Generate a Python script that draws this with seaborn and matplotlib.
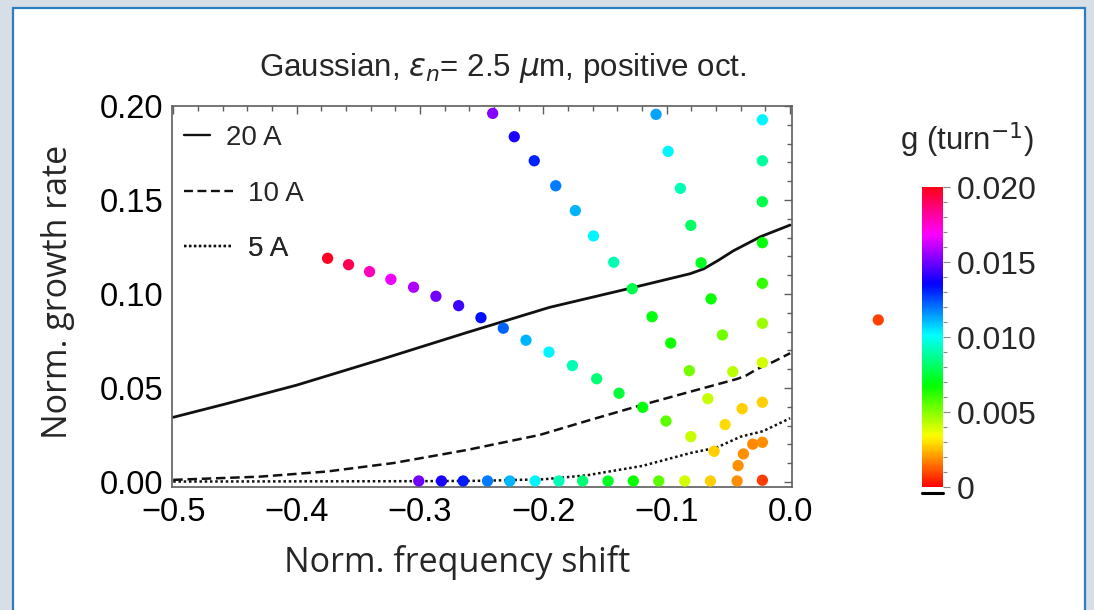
import numpy as np
import pandas as pd
import matplotlib
matplotlib.use("Agg")
import matplotlib.pyplot as plt
import matplotlib as mpl
import seaborn as sns
from matplotlib.patches import Rectangle
from matplotlib.lines import Line2D
from matplotlib.ticker import MultipleLocator

# ---------------- data ----------------
# Mode families: normalized frequency shift, normalized growth rate, g (1/turn)
shift_a = [-0.2411, -0.2236, -0.2074, -0.1900, -0.1741, -0.1594, -0.1430, -0.1280,
           -0.1119, -0.0968, -0.0817, -0.0667, -0.0527, -0.0379]
rate_a = [0.1961, 0.1837, 0.1709, 0.1576, 0.1444, 0.1309, 0.1169, 0.1028,
          0.0879, 0.0739, 0.0592, 0.0443, 0.0305, 0.0149]
g_a = [0.0153, 0.0139, 0.0131, 0.0119, 0.0111, 0.0103, 0.0092, 0.0078,
       0.0069, 0.0066, 0.0053, 0.0042, 0.0029, 0.0019]

shift_b = [-0.3749, -0.3579, -0.3409, -0.3236, -0.3052, -0.2871, -0.2687, -0.2506,
           -0.2325, -0.2141, -0.1955, -0.1765, -0.1568, -0.1387, -0.1195, -0.1006,
           -0.0805, -0.0616, -0.0422]
rate_b = [0.1190, 0.1156, 0.1119, 0.1078, 0.1036, 0.0988, 0.0938, 0.0874,
          0.0818, 0.0754, 0.0691, 0.0619, 0.0549, 0.0472, 0.0397, 0.0324,
          0.0241, 0.0163, 0.0087]
g_b = [0.0198, 0.0192, 0.0178, 0.0167, 0.0158, 0.0150, 0.0143, 0.0133,
       0.0122, 0.0111, 0.0103, 0.0092, 0.0083, 0.0075, 0.0069, 0.0056,
       0.0042, 0.0028, 0.0019]

shift_c = [-0.1087, -0.0989, -0.0890, -0.0805, -0.0722, -0.0641, -0.0549, -0.0465,
           -0.0389, -0.0303]
rate_c = [0.1956, 0.1759, 0.1562, 0.1365, 0.1166, 0.0974, 0.0782, 0.0587,
          0.0390, 0.0201]
g_c = [0.0114, 0.0103, 0.0092, 0.0081, 0.0072, 0.0067, 0.0053, 0.0043,
       0.0028, 0.0018]

shift_d = [-0.0225, -0.0225, -0.0225, -0.0225, -0.0225, -0.0225, -0.0225, -0.0225,
           -0.0225, -0.0225]
rate_d = [0.1927, 0.1709, 0.1491, 0.1273, 0.1057, 0.0844, 0.0635, 0.0424,
          0.0211, 0.0009]
g_d = [0.0103, 0.0089, 0.0078, 0.0069, 0.0061, 0.0047, 0.0040, 0.0028,
       0.0019, 0.0008]

shift_e = [-0.3010, -0.2826, -0.2650, -0.2453, -0.2272, -0.2067, -0.1874, -0.1682,
           -0.1476, -0.1271, -0.1065, -0.0854, -0.0646, -0.0430]
rate_e = [0.0005, 0.0005, 0.0005, 0.0005, 0.0005, 0.0005, 0.0005, 0.0005,
          0.0005, 0.0005, 0.0005, 0.0005, 0.0005, 0.0005]
g_e = [0.0150, 0.0139, 0.0132, 0.0119, 0.0111, 0.0103, 0.0092, 0.0083,
       0.0072, 0.0067, 0.0056, 0.0040, 0.0028, 0.0019]

shift_x = [0.0714]
rate_x = [0.0862]
g_x = [0.0009]

# Growth-rate curves for three beam currents
shift_20 = [-0.500, -0.457, -0.400, -0.330, -0.262, -0.195, -0.130, -0.081,
            -0.070, -0.058, -0.046, -0.024, 0.000]
rate_20 = [0.0344, 0.0416, 0.0515, 0.0655, 0.0795, 0.0929, 0.1030, 0.1108,
           0.1134, 0.1180, 0.1230, 0.1305, 0.1367]
shift_10 = [-0.500, -0.430, -0.376, -0.322, -0.262, -0.203, -0.162, -0.122,
            -0.081, -0.043, -0.036, -0.027, -0.014, 0.000]
rate_10 = [0.0011, 0.0028, 0.0055, 0.0100, 0.0170, 0.0250, 0.0330, 0.0406,
           0.0480, 0.0548, 0.0565, 0.0600, 0.0638, 0.0685]
shift_5 = [-0.500, -0.400, -0.300, -0.250, -0.200, -0.165, -0.120, -0.080,
           -0.060, -0.040, -0.022, 0.000]
rate_5 = [0.0002, 0.0003, 0.0004, 0.0006, 0.0014, 0.0035, 0.0085, 0.0155,
          0.0182, 0.0241, 0.0270, 0.0339]

g_ticks = [0.0, 0.005, 0.010, 0.015, 0.020]
g_tick_labels = ["0", "0.005", "0.010", "0.015", "0.020"]
x_ticks = [-0.5, -0.4, -0.3, -0.2, -0.1, 0.0]
y_ticks = [0.00, 0.05, 0.10, 0.15, 0.20]

modes = pd.DataFrame({
    "shift": shift_a + shift_b + shift_c + shift_d + shift_e + shift_x,
    "rate": rate_a + rate_b + rate_c + rate_d + rate_e + rate_x,
    "g": g_a + g_b + g_c + g_d + g_e + g_x,
})

# ---------------- style ----------------
sns.set_theme(style="white")
plt.rcParams["font.family"] = ["Liberation Sans", "DejaVu Sans"]
plt.rcParams["mathtext.fontset"] = "dejavusans"

W, H = 1094, 610
fig = plt.figure(figsize=(W / 100, H / 100), dpi=100)
fig.patch.set_facecolor("#d7dee6")
fig.add_artist(Rectangle((13 / W, -0.02), (1085 - 13) / W, 1.02 - 8 / H,
                         transform=fig.transFigure, facecolor="white",
                         edgecolor="#2b7fc0", lw=1.6, zorder=0))

ax = fig.add_axes([172 / W, (610 - 487) / H, (792 - 172) / W, (487 - 105.7) / H])
ax.set_facecolor("white")

cmap = "hsv"
norm = mpl.colors.Normalize(0, 0.02)

line_color = "#111111"
dash_10 = (0, (3.8, 1.9))
dot_5 = (0, (1.0, 1.1))
sns.lineplot(x=shift_20, y=rate_20, ax=ax, color=line_color, lw=2.0,
             linestyle="-", zorder=1.5)
sns.lineplot(x=shift_10, y=rate_10, ax=ax, color=line_color, lw=1.8,
             linestyle=dash_10, zorder=1.5)
sns.lineplot(x=shift_5, y=rate_5, ax=ax, color=line_color, lw=1.8,
             linestyle=dot_5, zorder=1.5)

sns.scatterplot(data=modes, x="shift", y="rate", hue="g", palette=cmap,
                hue_norm=(0, 0.02), s=66, linewidth=0, legend=False,
                ax=ax, zorder=3, clip_on=False)

ax.set_xlim(-0.501, 0.0015)
ax.set_ylim(-0.0027, 0.2002)
ax.set_xticks(x_ticks)
ax.set_xticklabels(["\u22120.5", "\u22120.4", "\u22120.3", "\u22120.2", "\u22120.1", "0.0"])
ax.set_yticks(y_ticks)
ax.set_yticklabels(["0.00", "0.05", "0.10", "0.15", "0.20"])
ax.xaxis.set_minor_locator(MultipleLocator(0.02))
ax.yaxis.set_minor_locator(MultipleLocator(0.01))
ax.tick_params(which="both", direction="in", top=True, right=True,
               color="#5e5e5e", width=1.0, labelsize=23.5, labelcolor="black")
ax.tick_params(which="major", length=6)
ax.tick_params(which="minor", length=3.5)
ax.tick_params(axis="x", pad=7)
ax.tick_params(axis="y", pad=6)
for sp in ax.spines.values():
    sp.set_color("#5e5e5e")
    sp.set_linewidth(1.2)
ax.set_xlabel("")
ax.set_ylabel("")

# legend entries, each with its own handle length
leg_specs = [
    ("20 A", "-", 0.95, 0.916),
    ("10 A", dash_10, 1.75, 0.768),
    ("5 A", dot_5, 1.75, 0.625),
]
for label, ls, hl, ypos in leg_specs:
    h = Line2D([], [], color=line_color, lw=1.7, linestyle=ls)
    lg = ax.legend([h], [label], loc="center left", bbox_to_anchor=(0.006, ypos),
                   frameon=False, fontsize=20, handlelength=hl,
                   handletextpad=0.55, borderaxespad=0.0, borderpad=0.3)
    ax.add_artist(lg)

# colorbar
cax = fig.add_axes([921.7 / W, (610 - 487.3) / H, 21 / W, 300 / H])
sm = mpl.cm.ScalarMappable(norm=norm, cmap=cmap)
cb = fig.colorbar(sm, cax=cax)
cb.outline.set_visible(False)
cb.set_ticks(g_ticks)
cb.set_ticklabels(g_tick_labels)
cax.yaxis.set_minor_locator(MultipleLocator(0.001))
cax.tick_params(which="both", direction="out", color="#888888", width=0.8,
                labelsize=23, pad=5)
cax.tick_params(which="major", length=5)
cax.tick_params(which="minor", length=3)
cax.axhline(-0.0004, color="black", lw=2.2, clip_on=False)

fig.text(967 / W, 1 - 140 / H, "g (turn$^{-1}$)", ha="center", va="center",
         fontsize=22.5)

# title and axis labels
fig.text(503 / W, 1 - 68 / H,
         "Gaussian, $\\epsilon_n$= 2.5 $\\mu$m, positive oct.",
         ha="center", va="center", fontsize=22.5)
fig.text(457 / W, 1 - 562 / H, "Norm. frequency shift", ha="center", va="center",
         fontsize=24.5, family="Open Sans")
fig.text(58 / W, 1 - 292 / H, "Norm. growth rate", ha="center", va="center",
         rotation=90, fontsize=24.5, family="Open Sans")

fig.savefig("out.png", dpi=100, facecolor=fig.get_facecolor())
